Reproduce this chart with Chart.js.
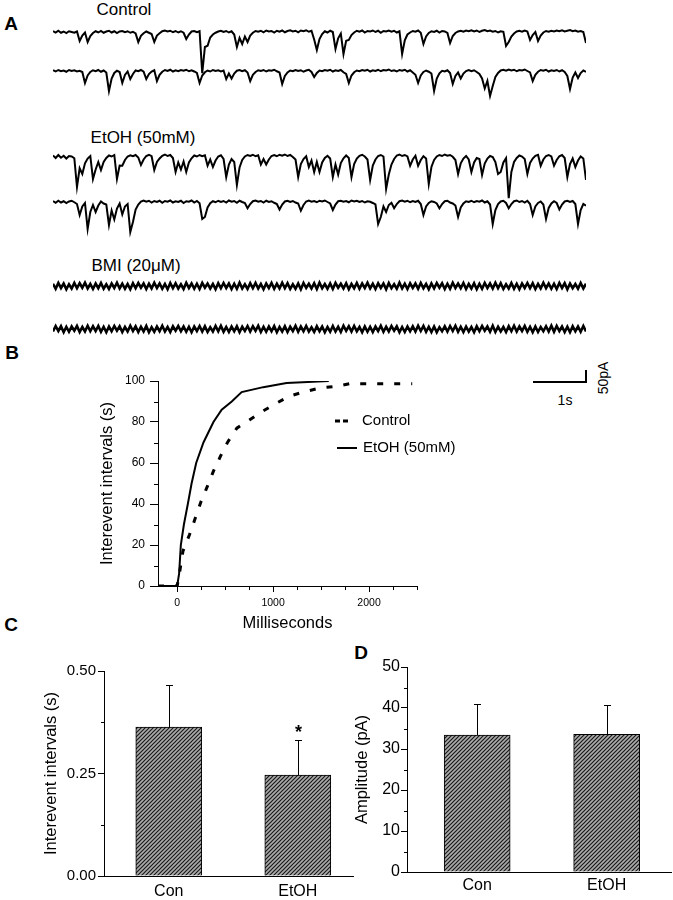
<!DOCTYPE html>
<html>
<head>
<meta charset="utf-8">
<script src="https://cdn.jsdelivr.net/npm/chart.js@4.4.1/dist/chart.umd.min.js"></script>
<style>
  body { margin: 0; background: #fff; }
  #fig { position: relative; width: 673px; height: 900px; overflow: hidden; font-family: 'Liberation Sans', Arial, sans-serif; color: #000; }
  #fig canvas { position: absolute; }
  .t { position: absolute; white-space: nowrap; line-height: 1; transform: translate(-50%, -50%); }
  .pl { font-weight: bold; font-size: 19px; }
  .bar { position: absolute; background: #000; }
</style>
</head>
<body>
<div id="fig">
  <div class="t pl" style="left:11px;top:23px">A</div>
  <div class="t" style="left:124px;top:9px;font-size:17px">Control</div>
  <div class="t" style="left:143px;top:137px;font-size:17px">EtOH (50mM)</div>
  <div class="t" style="left:136px;top:265px;font-size:17px">BMI (20μM)</div>
  <div class="t pl" style="left:12px;top:352px">B</div>
  <div class="t pl" style="left:11px;top:624px">C</div>
  <div class="t pl" style="left:361px;top:652px">D</div>

  <div class="bar" style="left:533px;top:381px;width:54px;height:2px"></div>
  <div class="bar" style="left:585px;top:370px;width:2px;height:13px"></div>
  <div class="t" style="left:565px;top:400px;font-size:14px">1s</div>
  <div class="t" style="left:603px;top:378px;font-size:14px;transform:translate(-50%,-50%) rotate(-90deg)">50pA</div>

  <canvas id="traces" width="533" height="345" style="left:53px;top:0"></canvas>
  <canvas id="cdf" width="380" height="270" style="left:90px;top:365px"></canvas>
  <canvas id="barC" width="330" height="245" style="left:30px;top:655px"></canvas>
  <canvas id="barD" width="338" height="248" style="left:335px;top:652px"></canvas>
</div>

<script>
// A: sweeps in pA, one sample every TRACE_DT s
const TRACE_DT = 0.05;

const CTRL_1 = [
  4, -2, 5, -3, 2, -4, 3, 0, -3, 2,
  -36, -14, -2, -40, -16, -4, 3, -2, 4, -3,
  2, 5, -2, 3, -4, 2, 4, -1, 3, -3,
  1, -6, -40, -15, -5, 2, -3, -8, -40, -14,
  -5, 3, 6, 2, 5, -1, 4, -2, 3, -3,
  -28, -10, 2, 4, -1, 3, -165, -60, -55, -22,
  -10, -3, 2, 5, 0, 4, -2, 3, -10, -60,
  -24, -48, -18, -40, -14, -3, 4, 1, 5, -1,
  6, 2, 4, -2, 5, 1, 6, -1, 4, 7,
  2, 5, -1, 6, 3, 7, 1, 5, -30, -72,
  -28, -8, 3, -2, 5, 0, -68, -25, -6, -88,
  -35, -32, -12, -2, 5, 1, 6, -2, 4, 2,
  6, 0, 5, -3, 4, 2, 6, 1, 5, -2,
  3, -88, -33, -10, -2, 4, 1, 6, -3, -48,
  -18, -4, 3, 0, 5, -2, 4, 2, -4, -44,
  -16, -4, 2, 5, 1, 6, 3, 7, 2, 6,
  0, 5, 8, 3, 6, 1, 4, -2, 3, 1,
  -56, -40, -18, -6, 2, 5, 1, 6, 2, -32,
  -12, 0, -36, -14, -2, 4, 1, 5, 2, 6,
  3, 7, 2, 5, 8, 3, 6, 1, 4, 0,
  -44
];
const CTRL_2 = [
  3, -2, 4, -1, 2, -3, 4, 0, 3, -2,
  1, -4, -48, -18, -4, 3, -1, 4, -3, 2,
  -6, -80, -30, -8, 1, -4, -48, -16, -2, -32,
  -12, 2, -1, 4, -3, -32, -12, -2, 3, -40,
  -15, -3, 4, 0, 5, -2, 3, -1, 4, 1,
  5, -1, 3, -2, -8, -48, -18, -5, 2, -2,
  4, 0, 3, -2, 2, -32, -10, -30, -10, 1,
  4, -1, 3, -6, -40, -15, -4, 3, 0, 4,
  -2, 3, 1, 5, -1, -6, -52, -20, -6, 2,
  -1, 4, 0, 3, -3, 2, 5, -4, -24, -8,
  2, -1, 4, 1, 5, -2, 3, 0, 4, -5,
  -12, -48, -18, -5, 2, -1, 4, 1, 5, -2,
  3, 0, 5, -1, 4, 2, 6, 0, 3, -2,
  4, 1, 5, -2, 3, -6, -15, -48, -18, -4,
  2, -3, -10, -80, -30, -9, 1, -2, 3, -8,
  -52, -20, -6, -30, -10, 0, 4, -1, 3, -4,
  -12, -30, -70, -40, -100, -60, -24, -8, 2, 5,
  1, 6, 2, 5, -1, 4, 2, 6, 0, -6,
  -40, -15, -3, 4, 1, 5, -2, 3, 0, 4,
  -2, 3, -4, -20, -72, -26, -6, -28, -8, 2,
  -4
];
const ETOH_1 = [
  6, -4, 8, -3, 5, -6, 4, 2, -5, -120,
  -45, -68, -25, -6, 4, -88, -50, -20, -52, -20,
  -4, 6, 2, 8, -88, -34, -35, -12, 2, 7,
  3, 8, -2, -32, -10, 4, 9, 3, -52, -20,
  -6, 5, 10, 4, 8, -4, -60, -22, -50, -18,
  -60, -22, -5, 6, 2, 8, 3, 7, -35, -10,
  -40, -14, 2, 7, -8, -80, -30, -8, -20, -112,
  -42, -12, 2, 8, 4, 9, 3, 7, -30, -8,
  -30, -10, 4, 8, 3, 9, 5, 10, 4, 8,
  0, -10, -80, -28, -8, 3, -40, -14, -60, -20,
  -60, -22, -4, 5, -6, -80, -30, -70, -24, -5,
  6, -4, -80, -28, -6, 5, 9, 2, -10, -92,
  -34, -10, 4, 8, 2, -128, -70, -30, -8, 6,
  10, 4, 8, 2, -35, -10, 5, -35, -12, 3,
  -6, -108, -40, -12, 2, 8, 4, 10, 5, 8,
  1, -12, -68, -25, -6, 4, -10, -60, -22, -4,
  -8, -72, -26, -6, 4, 0, -20, -68, -60, -22,
  -5, -165, -60, -20, -4, 6, 2, -8, -68, -24,
  -6, 5, 9, -35, -10, 4, 8, 2, -35, -12,
  3, 8, -4, -80, -28, -6, -40, -14, 2, -6,
  -92
];
const ETOH_2 = [
  4, -3, 5, -2, 3, -4, 2, 5, -1, -8,
  -52, -18, -4, -108, -40, -12, -40, -14, 2, -6,
  -10, -92, -34, -70, -26, -6, -50, -18, -8, -120,
  -80, -30, -10, 2, 6, 1, 5, -2, 4, 0,
  5, -3, 4, 1, 6, -2, 3, 0, 5, -4,
  3, 1, 6, -2, 4, -5, -68, -60, -22, -5,
  3, -1, 5, 0, 4, -2, 6, 1, 4, -3,
  5, 0, -4, -25, -8, 3, 6, 1, 4, -2,
  5, 0, 3, -3, -8, -30, -10, 2, 5, 0,
  4, -2, -6, -35, -12, 2, 6, 1, 4, -1,
  5, 2, 6, 0, -6, -32, -10, 3, 5, 1,
  4, -1, 6, 2, 5, 0, 4, -2, 3, 1,
  -4, -10, -88, -60, -18, -40, -12, -3, -25, -8,
  3, 6, 1, 5, -1, 4, 0, 5, -8, -52,
  -18, -4, 3, 0, -6, -25, -8, 3, 5, -2,
  -6, -14, -60, -22, -6, 3, 0, 5, -1, 4,
  1, 6, -2, 3, -10, -88, -32, -8, 2, 5,
  -4, -25, -8, 3, 6, 0, 4, -2, 5, -8,
  -52, -18, -4, 2, -10, -68, -24, -6, 3, -4,
  -30, -10, 2, 5, 0, 4, -8, -88, -32, -8,
  -15
];
const BMI_1 = [
  9, -11, 12, -8, 10, -13, 7, -10, 12, -9,
  11, -7, 13, -10, 8, -12, 10, -9, 12, -11,
  7, -12, 10, -8, 13, -10, 9, -11, 8, -13,
  11, -9, 12, -7, 10, -12, 9, -10, 13, -8,
  10, -11, 8, -13, 12, -9, 11, -10, 7, -12,
  13, -8, 10, -11, 9, -12, 12, -7, 10, -10,
  8, -13, 11, -9, 12, -8, 10, -12, 9, -11,
  13, -10, 7, -12, 11, -9, 12, -10, 8, -13,
  10, -8, 12, -11, 9, -10, 13, -9, 11, -12,
  7, -11, 10, -13, 12, -8, 9, -10, 11, -12,
  13, -9, 8, -11, 10, -12, 12, -7, 9, -10,
  11, -13, 8, -9, 12, -11, 10, -8, 13, -10,
  9, -12, 11, -8, 10, -13, 12, -9, 7, -11,
  13, -10, 9, -12, 11, -8, 10, -11, 12, -9,
  8, -13, 10, -10, 12, -7, 11, -12, 9, -11,
  13, -8, 10, -9, 12, -12, 8, -10, 11, -13,
  9, -11, 12, -8, 10, -10, 13, -9, 11, -12,
  7, -10, 12, -11, 9, -13, 10, -8, 12, -9,
  11, -12, 8, -10, 13, -9, 10, -11, 9, -12,
  12, -8, 11, -13, 10, -9, 8, -11, 12, -10,
  9
];
const BMI_2 = [
  -10, 12, -8, 11, -13, 9, -11, 10, -7, 12,
  -12, 8, -10, 13, -9, 11, -8, 12, -11, 9,
  -13, 10, -9, 12, -7, 11, -12, 8, -10, 13,
  -8, 11, -12, 9, -10, 12, -13, 7, -11, 10,
  -9, 13, -10, 8, -12, 11, -7, 12, -9, 10,
  -11, 9, -13, 10, -8, 12, -10, 11, -12, 7,
  -10, 12, -9, 13, -11, 8, -12, 10, -9, 11,
  -13, 9, -8, 12, -10, 11, -7, 13, -12, 9,
  -11, 10, -9, 12, -13, 8, -10, 11, -12, 9,
  -8, 13, -11, 10, -9, 12, -10, 7, -12, 11,
  -9, 10, -13, 8, -11, 12, -10, 9, -12, 13,
  -7, 11, -10, 12, -9, 8, -13, 10, -11, 9,
  -12, 10, -8, 13, -11, 9, -10, 12, -7, 11,
  -13, 8, -12, 10, -9, 11, -10, 13, -8, 12,
  -11, 9, -12, 10, -13, 7, -9, 11, -10, 12,
  -8, 13, -11, 9, -12, 10, -10, 8, -13, 11,
  -9, 12, -7, 10, -11, 13, -12, 9, -10, 8,
  -12, 11, -9, 13, -10, 10, -8, 12, -11, 9,
  -13, 10, -12, 8, -9, 11, -10, 13, -11, 12,
  -8, 10, -12, 9, -13, 11, -9, 10, -11, 12,
  -10
];

// B: cumulative distribution of interevent intervals
const CTRL_MS  = [-200, 0, 30, 60, 128, 188, 247, 309, 378, 448, 524, 622, 753, 882, 1028, 1163, 1316, 1490, 1663, 1800, 2450];
const CTRL_PCT = [0, 0, 8, 17, 25, 33, 41, 48, 56, 63, 70, 77, 81, 85, 89, 92.5, 94.6, 96.6, 97.4, 98.7, 98.7];
const ETOH_MS  = [-200, 0, 20, 38, 70, 111, 150, 198, 274, 378, 464, 569, 672, 897, 1140, 1580];
const ETOH_PCT = [0, 0, 6, 20, 30, 40, 50, 60, 70, 80, 86, 90, 94.6, 97, 99, 100];
const B_X_TICKS = [0, 1000, 2000];
const B_X_MINOR = [250, 500, 750, 1250, 1500, 1750, 2250, 2500];
const B_Y_TICKS = [0, 20, 40, 60, 80, 100];
const B_Y_MINOR = [10, 30, 50, 70, 90];

// C / D: mean + SEM
const GROUPS = ['Con', 'EtOH'];
const IEI_MEAN = [0.363, 0.246];
const IEI_SEM = [0.104, 0.085];
const IEI_SIG = ['', '*'];
const IEI_TICKS = [0, 0.25, 0.5];
const IEI_MINOR = [0.125, 0.375];
const AMP_MEAN = [33.4, 33.6];
const AMP_SEM = [7.5, 7.2];
const AMP_SIG = ['', ''];
const AMP_TICKS = [0, 10, 20, 30, 40, 50];
const AMP_MINOR = [5, 15, 25, 35, 45];

Chart.defaults.font.family = "'Liberation Sans', Arial, sans-serif";
Chart.defaults.color = '#000';
Chart.defaults.animation = false;

const FONT = "'Liberation Sans', Arial, sans-serif";

// shared plugins
const minorTicks = {
  id: 'minorTicks',
  afterDraw(chart, args, o) {
    const ctx = chart.ctx, a = chart.chartArea;
    ctx.save();
    ctx.strokeStyle = '#000';
    ctx.lineWidth = 1;
    ctx.beginPath();
    (o.x || []).forEach(v => {
      const px = Math.round(chart.scales.x.getPixelForValue(v)) + 0.5;
      ctx.moveTo(px, a.bottom);
      ctx.lineTo(px, a.bottom + o.len);
    });
    (o.y || []).forEach(v => {
      const py = Math.round(chart.scales.y.getPixelForValue(v)) + 0.5;
      ctx.moveTo(a.left, py);
      ctx.lineTo(a.left - o.len, py);
    });
    ctx.stroke();
    ctx.restore();
  }
};

const errBars = {
  id: 'errBars',
  afterDatasetsDraw(chart, args, o) {
    const ctx = chart.ctx, ys = chart.scales.y;
    chart.getDatasetMeta(0).data.forEach((bar, i) => {
      const top = Math.round(ys.getPixelForValue(o.mean[i] + o.sem[i])) + 0.5;
      const x = Math.round(bar.x) + 0.5;
      ctx.save();
      ctx.strokeStyle = '#000';
      ctx.lineWidth = 1;
      ctx.beginPath();
      ctx.moveTo(x, bar.y);
      ctx.lineTo(x, top);
      ctx.moveTo(x - 3.5, top);
      ctx.lineTo(x + 3.5, top);
      ctx.stroke();
      if (o.sig[i]) {
        ctx.fillStyle = '#000';
        ctx.font = 'bold 18px ' + FONT;
        ctx.textAlign = 'center';
        ctx.textBaseline = 'alphabetic';
        ctx.fillText(o.sig[i], x, top - 3);
      }
      ctx.restore();
    });
  }
};

const cdfLegend = {
  id: 'cdfLegend',
  afterDraw(chart, args, o) {
    const ctx = chart.ctx;
    chart.data.datasets.forEach((ds, i) => {
      const it = o.items[i];
      ctx.save();
      ctx.strokeStyle = '#000';
      ctx.lineWidth = ds.borderWidth;
      ctx.setLineDash(it.dash);
      ctx.beginPath();
      ctx.moveTo(it.x0, it.y);
      ctx.lineTo(it.x1, it.y);
      ctx.stroke();
      ctx.setLineDash([]);
      ctx.fillStyle = '#000';
      ctx.font = '15px ' + FONT;
      ctx.textBaseline = 'middle';
      ctx.fillText(ds.label, it.tx, it.y);
      ctx.restore();
    });
  }
};

// ---- A: raw sweeps, one hidden y axis per sweep (0.25 px per pA)
const PX_PER_PA = 0.25;
const A_H = 345;
const SWEEP_BASE = [32, 71, 157, 202, 286, 329];
const sweeps = [CTRL_1, CTRL_2, ETOH_1, ETOH_2, BMI_1, BMI_2];
const toXY = arr => arr.map((v, i) => ({ x: i * TRACE_DT, y: v }));

const aScales = { x: { type: 'linear', display: false, min: 0, max: 10 } };
SWEEP_BASE.forEach((b, k) => {
  aScales['y' + k] = { type: 'linear', display: false, max: b / PX_PER_PA, min: (b - A_H) / PX_PER_PA };
});

new Chart(document.getElementById('traces'), {
  type: 'line',
  data: {
    datasets: sweeps.map((arr, k) => ({
      data: toXY(arr),
      yAxisID: 'y' + k,
      borderColor: '#000',
      borderWidth: k < 4 ? 2 : 2.6,
      pointRadius: 0,
      tension: 0,
      clip: false
    }))
  },
  options: {
    responsive: false,
    layout: { padding: 0 },
    plugins: { legend: { display: false }, tooltip: { enabled: false } },
    scales: aScales
  }
});

// ---- B: cumulative curves
new Chart(document.getElementById('cdf'), {
  type: 'line',
  data: {
    datasets: [
      {
        label: 'Control',
        data: CTRL_MS.map((x, i) => ({ x, y: CTRL_PCT[i] })),
        borderColor: '#000', borderWidth: 3, borderDash: [6, 11],
        pointRadius: 0, tension: 0
      },
      {
        label: 'EtOH (50mM)',
        data: ETOH_MS.map((x, i) => ({ x, y: ETOH_PCT[i] })),
        borderColor: '#000', borderWidth: 2,
        pointRadius: 0, tension: 0
      }
    ]
  },
  options: {
    responsive: false,
    layout: { padding: { top: 16, right: 53, left: 0, bottom: 0 } },
    plugins: {
      legend: { display: false },
      tooltip: { enabled: false },
      minorTicks: { x: B_X_MINOR, y: B_Y_MINOR, len: 4 },
      cdfLegend: {
        items: [
          { x0: 245, x1: 258, tx: 272, y: 56, dash: [5, 3] },
          { x0: 247, x1: 267, tx: 273, y: 83, dash: [] }
        ]
      }
    },
    scales: {
      x: {
        type: 'linear', min: -200, max: 2500,
        afterFit: s => { s.height = 49; },
        afterBuildTicks: s => { s.ticks = B_X_TICKS.map(v => ({ value: v })); },
        ticks: { font: { size: 10.5 }, padding: 5, maxRotation: 0, autoSkip: false, callback: v => String(v) },
        grid: { drawOnChartArea: false, tickLength: 6, tickColor: '#000' },
        border: { color: '#000', width: 1 },
        title: { display: true, text: 'Milliseconds', font: { size: 16.5 }, padding: { top: 0, bottom: 2 } }
      },
      y: {
        type: 'linear', min: 0, max: 100,
        afterFit: s => { s.width = 68; },
        afterBuildTicks: s => { s.ticks = B_Y_TICKS.map(v => ({ value: v })); },
        ticks: { font: { size: 12 }, padding: 5, callback: v => String(v) },
        grid: { drawOnChartArea: false, tickLength: 8, tickColor: '#000' },
        border: { color: '#000', width: 1 },
        title: { display: true, text: 'Interevent intervals (s)', font: { size: 16.5 }, padding: { top: 8, bottom: 0 } }
      }
    }
  },
  plugins: [minorTicks, cdfLegend]
});

// ---- C / D: hatched bars with SEM
function hatch() {
  const c = document.createElement('canvas');
  c.width = 4; c.height = 4;
  const g = c.getContext('2d');
  g.fillStyle = '#ababab';
  g.fillRect(0, 0, 4, 4);
  g.strokeStyle = '#1a1a1a';
  g.lineWidth = 1.2;
  g.beginPath();
  g.moveTo(0, 4); g.lineTo(4, 0);
  g.moveTo(-1, 1); g.lineTo(1, -1);
  g.moveTo(3, 5); g.lineTo(5, 3);
  g.stroke();
  return g.createPattern(c, 'repeat');
}

function barPanel(id, mean, sem, sig, ticks, minor, o) {
  return new Chart(document.getElementById(id), {
    type: 'bar',
    data: {
      datasets: [{
        data: mean.map((y, i) => ({ x: i + 1, y })),
        backgroundColor: hatch(),
        borderColor: '#000',
        borderWidth: 1,
        barThickness: 66
      }]
    },
    options: {
      responsive: false,
      layout: { padding: { top: o.padTop, right: o.padRight, left: 0, bottom: 0 } },
      plugins: {
        legend: { display: false },
        tooltip: { enabled: false },
        minorTicks: { y: minor, len: 3 },
        errBars: { mean, sem, sig }
      },
      scales: {
        x: {
          type: 'linear', min: o.xMin, max: o.xMax, offset: false,
          afterFit: s => { s.height = o.xH; },
          afterBuildTicks: s => { s.ticks = GROUPS.map((_, i) => ({ value: i + 1 })); },
          ticks: { font: { size: 16 }, padding: o.xPad, maxRotation: 0, autoSkip: false, callback: v => GROUPS[v - 1] },
          grid: { display: true, drawOnChartArea: false, drawTicks: false, offset: false },
          border: { color: '#000', width: 1 }
        },
        y: {
          type: 'linear', min: 0, max: ticks[ticks.length - 1],
          afterFit: s => { s.width = o.yW; },
          afterBuildTicks: s => { s.ticks = ticks.map(v => ({ value: v })); },
          ticks: { font: { size: o.yFont }, padding: o.yPad, callback: o.fmt },
          grid: { drawOnChartArea: false, tickLength: 6, tickColor: '#000' },
          border: { color: '#000', width: 1 },
          title: { display: true, text: o.title, font: { size: 16.5 }, padding: { top: o.titlePad, bottom: 0 } }
        }
      }
    },
    plugins: [minorTicks, errBars]
  });
}

barPanel('barC', IEI_MEAN, IEI_SEM, IEI_SIG, IEI_TICKS, IEI_MINOR, {
  padTop: 16, padRight: 7, xMin: 0.498, xMax: 2.428, xH: 24, xPad: 6,
  yW: 74, yFont: 15, yPad: 2, fmt: v => v.toFixed(2),
  title: 'Interevent intervals (s)', titlePad: 12
});

barPanel('barD', AMP_MEAN, AMP_SEM, AMP_SIG, AMP_TICKS, AMP_MINOR, {
  padTop: 15, padRight: 2, xMin: 0.458, xMax: 2.497, xH: 28, xPad: 4,
  yW: 72, yFont: 16, yPad: 1, fmt: v => String(v),
  title: 'Amplitude (pA)', titlePad: 18
});
</script>
</body>
</html>
